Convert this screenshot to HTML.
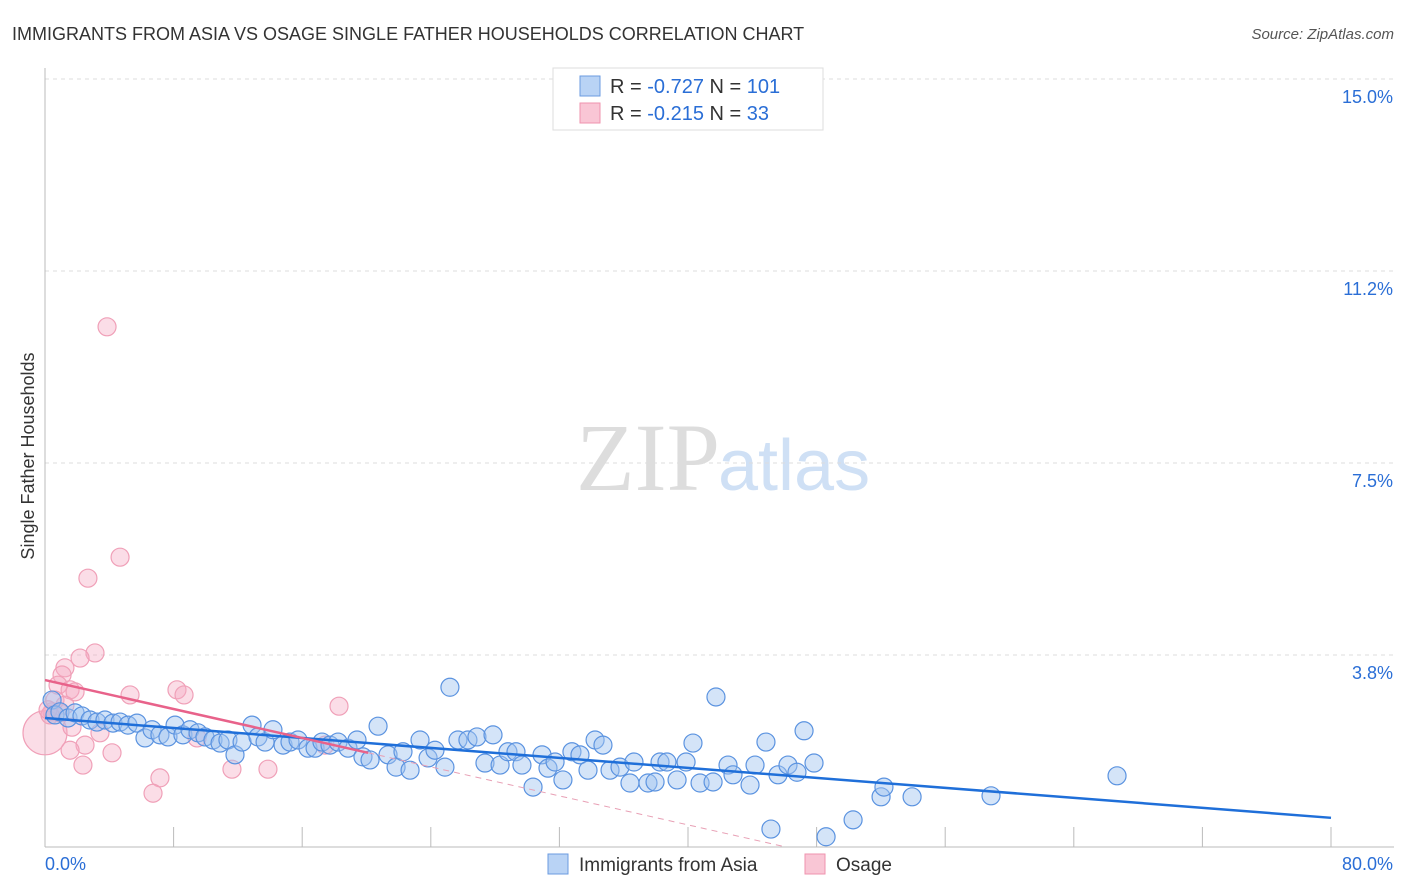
<!DOCTYPE html>
<html><head><meta charset="utf-8"><style>
body{margin:0;background:#fff;font-family:"Liberation Sans",sans-serif;}
</style></head><body>
<svg id="chart" width="1406" height="892" xmlns="http://www.w3.org/2000/svg" style="display:block">
<text x="12" y="40" font-size="18" fill="#333">IMMIGRANTS FROM ASIA VS OSAGE SINGLE FATHER HOUSEHOLDS CORRELATION CHART</text>
<text x="1394" y="39" font-size="15" fill="#555" font-style="italic" text-anchor="end">Source: ZipAtlas.com</text>
<text x="720" y="490" font-size="96" fill="#ddd" text-anchor="end" font-family="Liberation Serif,serif">ZIP</text>
<text x="718" y="490" font-size="72" fill="#cfe0f5">atlas</text>
<g id="grid"></g><g id="axes"></g><g id="pts"></g><g id="lines"></g>
<text transform="translate(34,456) rotate(-90)" font-size="18" fill="#333" text-anchor="middle">Single Father Households</text>
<g>
<rect x="553" y="68" width="270" height="62" fill="#fff" stroke="#ddd"/>
<rect x="580" y="76" width="20" height="20" fill="#b9d3f5" stroke="#6b9be0"/>
<rect x="580" y="103" width="20" height="20" fill="#f9c6d5" stroke="#ef93ae"/>
<text x="610" y="93" font-size="20" fill="#333">R = <tspan fill="#2a6ed6">-0.727</tspan>   N = <tspan fill="#2a6ed6">101</tspan></text>
<text x="610" y="120" font-size="20" fill="#333">R = <tspan fill="#2a6ed6">-0.215</tspan>   N = <tspan fill="#2a6ed6"> 33</tspan></text>
</g>
<g>
<rect x="548" y="854" width="20" height="20" fill="#b9d3f5" stroke="#6b9be0"/>
<text x="579" y="871" font-size="19" fill="#333">Immigrants from Asia</text>
<rect x="805" y="854" width="20" height="20" fill="#f9c6d5" stroke="#ef93ae"/>
<text x="836" y="871" font-size="19" fill="#333">Osage</text>
</g>
</svg>
<script>
const blueX=[0.44,0.62,0.93,1.43,1.87,2.30,2.80,3.23,3.73,4.23,4.67,5.16,5.72,6.22,6.66,7.15,7.65,8.09,8.58,9.02,9.52,9.95,10.45,10.89,11.38,11.82,12.26,12.88,13.25,13.69,14.18,14.81,15.24,15.74,16.36,16.80,17.23,17.73,18.23,18.85,19.41,19.78,20.22,20.72,21.34,21.84,22.27,22.71,23.33,23.83,24.26,24.88,25.19,25.69,26.31,26.87,27.37,27.87,28.31,28.80,29.30,29.67,30.36,30.92,31.29,31.73,32.22,32.78,33.28,33.78,34.22,34.71,35.15,35.77,36.39,36.64,37.51,37.95,38.26,38.69,39.32,39.88,40.31,40.75,41.56,42.49,42.80,43.86,44.17,44.85,45.60,46.22,46.78,47.22,47.84,41.74,45.16,48.59,50.27,52.01,52.19,53.94,58.85,66.69];
const blueY=[2.87,2.58,2.64,2.52,2.62,2.56,2.48,2.44,2.48,2.42,2.44,2.38,2.42,2.13,2.29,2.19,2.15,2.38,2.19,2.29,2.23,2.15,2.09,2.03,2.09,1.80,2.05,2.38,2.15,2.05,2.29,1.99,2.05,2.09,1.93,1.93,2.05,1.99,2.05,1.93,2.09,1.76,1.70,2.36,1.80,1.56,1.86,1.50,2.09,1.74,1.89,1.56,3.12,2.09,2.09,2.15,1.64,2.19,1.60,1.86,1.86,1.60,1.17,1.80,1.54,1.66,1.31,1.86,1.80,1.50,2.09,1.99,1.50,1.56,1.25,1.66,1.25,1.27,1.66,1.66,1.31,1.66,2.03,1.25,1.27,1.60,1.41,1.21,1.60,2.05,1.41,1.60,1.46,2.27,1.64,2.93,0.35,0.20,0.53,0.98,1.17,0.98,1.00,1.39];
const pinkX=[3.86,4.67,2.67,3.11,1.24,2.18,1.06,0.81,1.56,1.87,0.44,0,5.29,8.21,8.65,18.29,0.93,1.68,2.49,1.56,2.36,4.17,3.42,9.46,7.15,6.72,11.63,13.87,17.42,0.62,1.24,0.31,0.19];
const pinkY=[10.16,5.66,5.25,3.79,3.50,3.69,3.36,3.16,3.07,3.03,2.64,2.23,2.97,3.07,2.97,2.75,2.62,2.34,1.99,1.89,1.60,1.84,2.23,2.13,1.35,1.05,1.52,1.52,1.99,2.87,2.77,2.58,2.68];
const pinkR=[9,9,9,9,9,9,9,9,9,9,9,22,9,9,9,9,9,9,9,9,9,9,9,9,9,9,9,9,9,9,9,9,9];
const yTicks=[3.75,7.5,11.25,15];
const yTickLabels=["3.8%","7.5%","11.2%","15.0%"];
const blueTrend=[[0,2.52],[80,0.57]];
const pinkTrend=[[0,3.26],[20.1,1.84]];
const pinkDash=[[20.1,1.84],[46.1,0]];
const NS='http://www.w3.org/2000/svg';
const sx=v=>45+v/80*1286, sy=v=>847-v/15*768;
function mk(tag,attrs,parent){const e=document.createElementNS(NS,tag);for(const k in attrs)e.setAttribute(k,attrs[k]);document.getElementById(parent).appendChild(e);return e;}
yTicks.forEach((t,i)=>{
 const g=mk('line',{x1:45,x2:1394,y1:sy(t),y2:sy(t),stroke:'#ddd','stroke-dasharray':'4,4'},'grid');
 
 
 const l=mk('text',{x:1393,y:sy(t)+24,'font-size':18,fill:'#2a6ed6','text-anchor':'end'},'axes');l.textContent=yTickLabels[i];
 
 
});
mk('line',{x1:45,x2:45,y1:68,y2:847,stroke:'#bbb'},'axes');
const xa=mk('line',{x1:45,x2:1394,y1:847,y2:847,stroke:'#bbb'},'axes');


for(let i=1;i<=10;i++){const t=mk('line',{x1:sx(i*8),x2:sx(i*8),y1:827,y2:847,stroke:'#bbb'},'axes');
 
 }
const x0=mk('text',{x:45,y:870,'font-size':18,fill:'#2a6ed6'},'axes');x0.textContent='0.0%';


const x1=mk('text',{x:1393,y:870,'font-size':18,fill:'#2a6ed6','text-anchor':'end'},'axes');x1.textContent='80.0%';


pinkX.forEach((v,i)=>{const c=mk('circle',{cx:sx(v),cy:sy(pinkY[i]),r:pinkR[i],fill:'rgba(246,170,195,0.4)',stroke:'#f0a0b8','stroke-width':1.2},'pts');
 
 });
blueX.forEach((v,i)=>{const c=mk('circle',{cx:sx(v),cy:sy(blueY[i]),r:9,fill:'rgba(160,196,240,0.45)',stroke:'#5b93e0','stroke-width':1.2},'pts');
 
 });
const b=mk('line',{x1:sx(blueTrend[0][0]),y1:sy(blueTrend[0][1]),x2:sx(blueTrend[1][0]),y2:sy(blueTrend[1][1]),stroke:'#1f6fd9','stroke-width':2.5},'lines');


const p=mk('line',{x1:sx(pinkTrend[0][0]),y1:sy(pinkTrend[0][1]),x2:sx(pinkTrend[1][0]),y2:sy(pinkTrend[1][1]),stroke:'#e8628a','stroke-width':2.5},'lines');


const pd=mk('line',{x1:sx(pinkDash[0][0]),y1:sy(pinkDash[0][1]),x2:sx(pinkDash[1][0]),y2:sy(pinkDash[1][1]),stroke:'#e8a0b5','stroke-width':1,'stroke-dasharray':'6,5'},'lines');


</script>
</body></html>
